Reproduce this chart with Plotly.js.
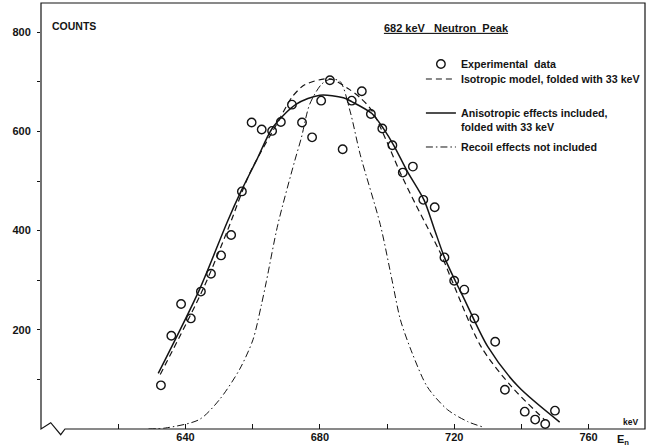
<!DOCTYPE html>
<html><head><meta charset="utf-8">
<script src="https://cdn.plot.ly/plotly-3.0.1.min.js"></script>
<style>html,body{margin:0;padding:0;background:#fff}#chart{width:657px;height:448px}</style>
</head><body><div id="chart"></div>
<script>
// Experimental data points (neutron energy keV, counts)
const dataEnergy = [632.7,635.8,638.7,641.6,644.6,647.6,650.6,653.6,656.8,659.7,662.7,665.8,668.4,671.7,674.7,677.7,680.4,683.0,686.8,689.5,692.5,695.2,698.6,701.6,704.7,707.7,710.8,714.2,717.1,720.0,723.0,726.0,732.2,735.1,741.0,744.1,747.1,750.0];
const dataCounts = [88,188,252,223,277,313,350,391,479,618,604,601,619,654,618,588,662,703,564,662,681,635,606,572,517,529,462,447,346,299,281,223,176,79,35,19,10,37];

// Isotropic model, folded with 33 keV (dashed)
const isoEnergy = [632.5,645.1,652.5,659.1,668.1,671.6,675.5,683.0,688.5,692.0,695.5,704.4,708.3,712.3,716.3,719.3,728.0,737.0,747.0];
const isoCounts = [110,280,400,515,626,668,694,706,686,668,642,510,456,403,349,300,166,86,18];

// Anisotropic effects included, folded with 33 keV (solid)
const anisoEnergy = [631.9,644.1,652.6,656.6,661.1,666.0,673.0,680.0,687.0,689.5,695.5,699.0,702.0,706.0,711.0,714.0,717.1,720.3,723.0,730.0,739.0,751.4];
const anisoCounts = [112,280,420,480,541,608,655,673,668,660,636,605,572,520,462,405,346,299,262,166,86,14];

// Recoil effects not included (dash-dot)
const recoilEnergy = [629.0,634.0,644.1,650.1,656.1,660.1,662.6,664.1,667.5,672.5,674.5,677.0,680.5,683.0,686.0,689.0,692.0,698.0,701.5,704.0,707.5,712.0,718.0,724.0,729.0];
const recoilCounts = [0,2,19,59,120,180,250,298,412,540,587,655,695,705,701,641,554,412,300,220,153,85,39,15,3];

// Axis ticks
const xTickVals = [620,640,660,680,700,720,740,760];
const xTickText = ['','640','','680','','720','','760'];
const yTickVals = [100,200,300,400,500,600,700,800];
const yTickText = ['','200','','400','','600','','800'];

const ink = '#141414';
const FONT = 'Liberation Sans, Arial, Helvetica, sans-serif';
const nb = '\u00a0';

const traces = [
  {x: dataEnergy, y: dataCounts, type: 'scatter', mode: 'markers',
   name: 'Experimental' + nb + nb + 'data', legend: 'legend',
   marker: {symbol: 'circle-open', size: 8.5, color: ink, line: {width: 1.4, color: ink}}},
  {x: isoEnergy, y: isoCounts, type: 'scatter', mode: 'lines',
   name: 'Isotropic' + nb + 'model,' + nb + 'folded' + nb + 'with' + nb + '33 keV', legend: 'legend2',
   line: {color: ink, width: 1.2, dash: '6px,4px', shape: 'spline', smoothing: 0.8}},
  {x: anisoEnergy, y: anisoCounts, type: 'scatter', mode: 'lines',
   name: 'Anisotropic' + nb + 'effects' + nb + 'included,<br>folded' + nb + 'with' + nb + '33 keV', legend: 'legend3',
   line: {color: ink, width: 1.5, shape: 'spline', smoothing: 0.8}},
  {x: recoilEnergy, y: recoilCounts, type: 'scatter', mode: 'lines',
   name: 'Recoil' + nb + 'effects' + nb + 'not' + nb + 'included', legend: 'legend4',
   line: {color: ink, width: 1, dash: '7px,3px,1.5px,3px', shape: 'spline', smoothing: 0.8}}
];

const legendBase = {x: 0.629, xanchor: 'left', bgcolor: 'rgba(0,0,0,0)', borderwidth: 0,
  font: {family: FONT, size: 10.7, color: ink, weight: 'bold'}, itemwidth: 30, tracegroupgap: 0};

const layout = {
  width: 657, height: 448,
  margin: {l: 41, r: 12, t: 3, b: 19, pad: 0, autoexpand: false},
  paper_bgcolor: '#fff', plot_bgcolor: '#fff',
  font: {family: FONT, size: 11, color: ink, weight: 'bold'},
  title: {text: '<u>682 keV' + nb + nb + nb + 'Neutron' + nb + nb + 'Peak</u>',
    xref: 'paper', x: 0.6705, xanchor: 'center', yref: 'container', y: 0.9375, yanchor: 'middle',
    font: {family: FONT, size: 11, color: ink, weight: 'bold'}},
  xaxis: {range: [597, 776.8], tickvals: xTickVals, ticktext: xTickText, ticks: 'inside', ticklen: 5,
    tickwidth: 1, tickcolor: ink, showline: false, showgrid: false, zeroline: false,
    tickfont: {family: FONT, size: 11, color: ink, weight: 'bold'}},
  yaxis: {range: [0, 858.9], tickvals: yTickVals, ticktext: yTickText, ticks: 'outside', ticklen: 3,
    tickwidth: 1, tickcolor: ink, showline: false, showgrid: false, zeroline: false, ticklabelstandoff: 4,
    tickfont: {family: FONT, size: 11, color: ink, weight: 'bold'}},
  yaxis2: {overlaying: 'y', side: 'right', range: [0, 858.9], tickvals: yTickVals, ticks: 'inside', ticklen: 5,
    tickwidth: 1, tickcolor: ink, showticklabels: false, showline: false, showgrid: false, zeroline: false},
  showlegend: true,
  legend: Object.assign({}, legendBase, {y: 0.8568, yanchor: 'middle'}),
  legend2: Object.assign({}, legendBase, {y: 0.8216, yanchor: 'middle'}),
  legend3: Object.assign({}, legendBase, {y: 0.7735, yanchor: 'top', valign: 'top'}),
  legend4: Object.assign({}, legendBase, {y: 0.6620, yanchor: 'middle'}),
  shapes: [
    {type: 'path', xref: 'paper', yref: 'paper',
     path: 'M0,1 L0,0 L0.0161,0.0148 L0.0326,-0.0134 L0.0397,0 L1,0 L1,1 Z',
     line: {color: ink, width: 1.2}, fillcolor: 'rgba(0,0,0,0)'}
  ],
  annotations: [
    {text: 'COUNTS', xref: 'paper', yref: 'paper', x: 0.0149, y: 0.946, xanchor: 'left', yanchor: 'middle',
     showarrow: false, font: {family: FONT, size: 10.5, color: ink, weight: 'bold'}},
    {text: 'keV', xref: 'paper', yref: 'paper', x: 0.976, y: 0.0171, xanchor: 'center', yanchor: 'middle',
     showarrow: false, font: {family: FONT, size: 8.5, color: ink, weight: 'bold'}},
    {text: 'E<sub>n</sub>', xref: 'paper', yref: 'paper', x: 0.950, y: -0.0258, xanchor: 'left', yanchor: 'middle',
     showarrow: false, font: {family: FONT, size: 11, color: ink, weight: 'bold'}}
  ]
};

Plotly.newPlot('chart', traces, layout, {displayModeBar: false, staticPlot: true});
</script>
</body></html>
